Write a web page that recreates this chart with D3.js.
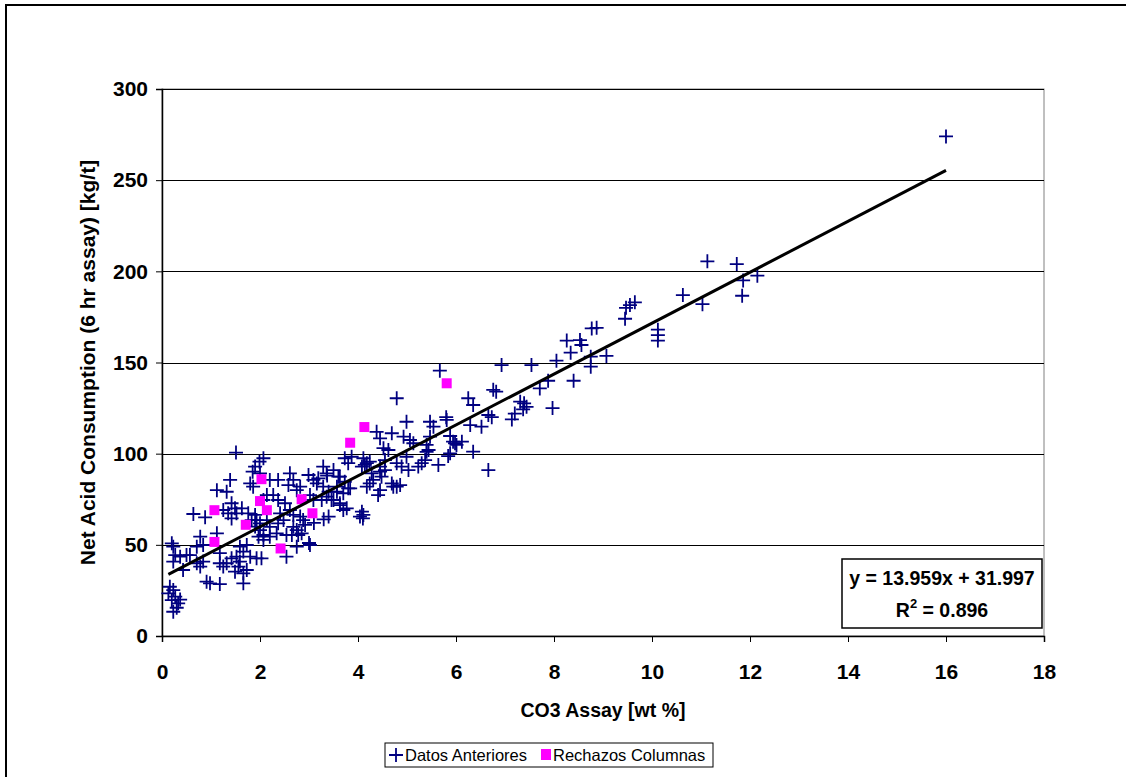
<!DOCTYPE html>
<html><head><meta charset="utf-8">
<script src="https://cdn.jsdelivr.net/npm/d3@7"></script>
<style>body{margin:0;background:#fff;}svg{display:block;}</style>
</head><body><svg id="c" width="1126" height="777"></svg>
<script>
const datosX = [16.0,11.13,11.73,11.86,11.84,12.15,10.63,11.03,10.12,10.12,10.12,9.45,9.47,9.55,9.65,8.77,8.87,8.26,8.53,8.56,8.34,8.05,8.75,8.75,9.07,7.54,6.93,7.88,7.71,8.4,7.97,7.31,7.39,7.44,7.37,7.2,7.14,
5.67,4.79,6.76,6.82,6.25,6.35,4.99,5.47,5.54,5.8,5.81,6.29,6.52,6.66,6.73,4.38,4.45,4.69,4.93,5.06,5.47,5.4,5.88,5.98,6.12,6.35,6.66,4.52,4.62,4.99,5.4,5.37,5.64,5.84,4.79,4.89,5.23,5.3,3.73,3.87,4.11,4.18,4.08,4.24,4.45,4.55,4.48,4.69,4.79,4.45,4.24,4.18,4.31,4.28,3.63,3.73,3.57,3.8,3.7,3.37,4.08,4.1,3.63,3.7,3.5,5.13,5.94,6.01,5.88,5.44,4.41,4.86,4.72,4.55,4.45,5.03,
2.07,3.8,4.14,3.29,3.36,3.5,3.6,2.61,2.68,2.99,3.09,3.19,2.2,2.37,2.58,2.75,2.82,3.16,3.29,3.4,3.57,3.84,4.04,4.11,2.27,2.37,2.51,2.07,3.02,3.09,3.26,3.36,3.46,3.63,3.77,3.4,2.61,2.68,2.82,2.88,2.92,2.41,2.48,2.37,2.14,2.2,2.68,2.75,2.65,2.78,2.85,2.34,2.54,2.2,2.07,2.75,3.02,2.54,2.03,
1.51,1.99,1.9,1.85,2.0,1.39,1.32,1.12,1.8,1.86,2.14,1.42,1.49,1.25,1.35,1.42,1.52,1.63,0.64,0.88,1.76,1.9,1.83,1.93,2.0,1.9,2.0,1.97,2.07,0.78,0.84,0.71,1.12,1.18,0.23,0.27,0.37,0.5,0.23,0.43,0.71,0.78,0.84,1.18,1.25,1.32,1.42,1.52,1.59,1.56,1.49,1.66,1.73,1.8,1.93,1.59,1.73,1.66,0.91,0.98,1.18,1.66,0.16,0.23,0.13,0.27,0.2,0.33,0.23,0.3,0.37,0.2,0.57,3.1,3.3,3.0];
const datosY = [274,205.5,204,195,186.6,197.6,187,182,168,165,162,174,180,181.5,183,168.7,169,162,162.3,159.6,155.4,151,153.2,147.7,153.6,148.6,148.6,140,135.8,140,125,128.5,127.6,125.7,124.3,122,118.8,
145.5,130.4,135,134,130.4,126.7,117.5,117.5,114.8,120,118.5,115.7,114.8,121.2,120,112,108.4,111.2,109.3,107.5,109.3,104.8,109.7,105.7,106.6,101.1,91,103,102,98.3,101,96.5,93.8,98.7,94.8,92.9,92.9,94.8,97.5,98.3,97.5,94.8,92.9,95.6,92.9,91,87.4,83.7,81.9,80,83.7,81.9,85.6,89.2,87.4,84.6,81.9,81,78.3,88,68.2,64.5,72.8,69.1,74.6,105.7,106.6,104.8,100.2,102,77.3,82.8,81.9,96.5,90.1,91,
97.5,94.8,93.8,92.9,89.2,91,87.4,89.2,85.6,88.3,85.6,86.5,85.6,85.6,82.8,80,81.9,83.7,81.9,79.1,79.1,81,65.5,66.4,77.3,74.6,72.8,74.6,77.3,74.6,74.6,76.4,74.6,71.8,70,65.5,69.1,66.4,65.5,63.6,60.9,67.3,63.6,61.8,63.6,59.9,59.9,58.1,55.4,55.4,56.3,56.3,55.4,54.5,55.4,49,49.9,43.5,42.6,
100.6,95.6,92.9,90.1,89.2,85.6,79.1,80,83.7,81.9,77.3,72.8,70,69.1,67.3,64.5,67.3,70,66.9,65.1,67.3,66.4,63.6,63.6,61.8,60,58.1,54.5,52.7,54.5,49.9,49,56.3,45.4,49,44.4,43.5,44.4,40.8,36.2,39.9,38.1,40.8,39.9,38.1,39.9,42.6,43.5,40.8,38.1,35.3,34.4,36.2,43.5,42.6,49,49.9,46.3,29.8,28.9,28.5,28.9,27,25.2,23.4,21.6,19.7,17.9,13.3,15.5,20,50.8,44.4,62,64,51];
const rechazosX = [5.81,4.13,3.84,2.03,2.0,2.14,2.85,3.07,2.42,1.07,1.71,1.07];
const rechazosY = [138.6,114.6,106,86,74,69,75,67.3,48,69,61,51.6];
const xTicks = [0,2,4,6,8,10,12,14,16,18];
const yTicks = [0,50,100,150,200,250,300];
const slope = 13.959, intercept = 31.997;
const eqLines = ["y = 13.959x + 31.997", "R2 = 0.896"];
const seriesNames = ["Datos Anteriores", "Rechazos Columnas"];
const xTitle = "CO3 Assay [wt %]";
const yTitle = "Net Acid Consumption (6 hr assay) [kg/t]";

const svg = d3.select("#c");
const FONT = "'Liberation Sans', Arial, sans-serif";
const L = 162, R = 1044, T = 89, B = 636;
const x = d3.scaleLinear().domain([0,18]).range([L,R]);
const y = d3.scaleLinear().domain([0,300]).range([B,T]);

// outer border
svg.append("rect").attr("x",6).attr("y",5).attr("width",1300).attr("height",900)
  .attr("fill","#fff").attr("stroke","#000").attr("stroke-width",2);

// plot area border
svg.append("rect").attr("x",L).attr("y",T).attr("width",R-L).attr("height",B-T)
  .attr("fill","#fff").attr("stroke","#808080").attr("stroke-width",1);

// gridlines
svg.append("g").selectAll("line").data(yTicks.filter(d=>d>0)).join("line")
  .attr("x1",L).attr("x2",R).attr("y1",d=>Math.round(y(d))+0.5).attr("y2",d=>Math.round(y(d))+0.5)
  .attr("stroke","#000").attr("stroke-width",1);

// axes
const xAxis = svg.append("g").attr("transform",`translate(0,${B})`)
  .call(d3.axisBottom(x).tickValues(xTicks).tickSize(6).tickPadding(22).tickFormat(d3.format("d")));
const yAxis = svg.append("g").attr("transform",`translate(${L},0)`)
  .call(d3.axisLeft(y).tickValues(yTicks).tickSize(6).tickPadding(8).tickFormat(d3.format("d")));
[xAxis,yAxis].forEach(a=>{
  a.select(".domain").attr("stroke","#000").attr("stroke-width",1.5);
  a.selectAll(".tick line").attr("stroke","#000");
  a.selectAll("text").attr("font-family",FONT).attr("font-weight","bold").attr("font-size",21).attr("fill","#000");
});

// data: crosses
const pts = datosX.map((d,i)=>[d,datosY[i]]);
const cr = 7;
svg.append("g").selectAll("path").data(pts).join("path")
  .attr("d",d=>{const cx=x(d[0]), cy=y(d[1]);
    return `M${cx-cr},${cy}H${cx+cr}M${cx},${cy-cr}V${cy+cr}`;})
  .attr("stroke","#000080").attr("stroke-width",1.8).attr("fill","none");

// rechazos squares
const rp = rechazosX.map((d,i)=>[d,rechazosY[i]]);
svg.append("g").selectAll("rect").data(rp).join("rect")
  .attr("x",d=>x(d[0])-5).attr("y",d=>y(d[1])-5).attr("width",10).attr("height",10)
  .attr("fill","#FF00FF");

// trendline
const allX = datosX.concat(rechazosX);
const x0 = d3.min(allX), x1 = d3.max(allX);
svg.append("line").attr("x1",x(x0)).attr("y1",y(slope*x0+intercept))
  .attr("x2",x(x1)).attr("y2",y(slope*x1+intercept))
  .attr("stroke","#000").attr("stroke-width",3);

// equation box
const eq = svg.append("g");
eq.append("rect").attr("x",842).attr("y",559).attr("width",200).attr("height",69)
  .attr("fill","#fff").attr("stroke","#000").attr("stroke-width",1.5);
eq.append("text").attr("x",942).attr("y",585).attr("text-anchor","middle")
  .attr("font-family",FONT).attr("font-weight","bold").attr("font-size",19.5).text(eqLines[0]);
const t2 = eq.append("text").attr("x",942).attr("y",617).attr("text-anchor","middle")
  .attr("font-family",FONT).attr("font-weight","bold").attr("font-size",19.5);
t2.append("tspan").text("R");
t2.append("tspan").attr("dy",-9).attr("font-size",13).text("2");
t2.append("tspan").attr("dy",9).text(" = 0.896");

// axis titles
svg.append("text").attr("x",(L+R)/2).attr("y",717).attr("text-anchor","middle")
  .attr("font-family",FONT).attr("font-weight","bold").attr("font-size",19.5).text(xTitle);
svg.append("text").attr("transform",`translate(95,${(T+B)/2}) rotate(-90)`).attr("text-anchor","middle")
  .attr("font-family",FONT).attr("font-weight","bold").attr("font-size",21).text(yTitle);

// legend
const lg = svg.append("g");
lg.append("rect").attr("x",385).attr("y",743).attr("width",328).attr("height",24)
  .attr("fill","#fff").attr("stroke","#000").attr("stroke-width",1);
lg.append("path").attr("d","M389,755H403M396,748V762").attr("stroke","#000080").attr("stroke-width",1.8);
lg.append("text").attr("x",405).attr("y",761).attr("font-family",FONT).attr("font-size",16.5).text(seriesNames[0]);
lg.append("rect").attr("x",541).attr("y",749).attr("width",10).attr("height",11).attr("fill","#FF00FF");
lg.append("text").attr("x",553).attr("y",761).attr("font-family",FONT).attr("font-size",16.5).text(seriesNames[1]);
</script></body></html>
